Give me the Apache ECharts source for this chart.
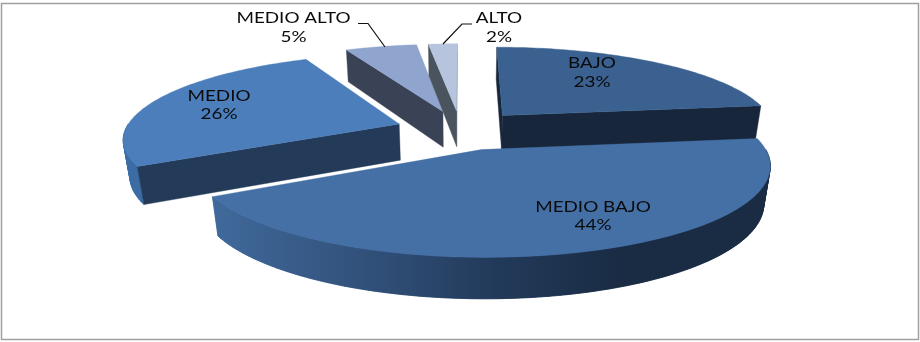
<!DOCTYPE html>
<html>
<head>
<meta charset="utf-8">
<style>html,body{margin:0;padding:0;background:#fff}#chart{width:920px;height:342px}</style>
<script src="https://cdn.jsdelivr.net/npm/echarts@6/dist/echarts.min.js"></script>
</head>
<body>
<div id="chart"></div>
<script>
// Income level shares, clockwise from twelve o'clock
const categories = ['BAJO', 'MEDIO BAJO', 'MEDIO', 'MEDIO ALTO', 'ALTO'];
const shares = [23, 44, 26, 5, 2];

// Slice colours
const topColors = ['#3A6190', '#4470A6', '#4B7EBB', '#8FA5CE', '#B6C4DD'];
const cutColors = ['#17263B', '#1A2C44', '#243A59', '#3A4256', '#4A545F'];

// Back-to-front paint order of the slices
const paintOrder = [3, 4, 0, 2, 1];

// Label anchors (centre of the two-line text) and their leader lines
const labelCentres = [[592, 73], [593, 216.5], [219, 105.5], [293.5, 28], [499, 28]];
const leaders = [null, null, null,
  [[358, 23.5], [368, 23.5], [385, 47]],
  [[472, 24], [462, 24], [443, 44]]];

// Pie projection: a unit disc seen from above with mild perspective
const view = {
  cx: 460.5, cy: 130,
  scaleX: 274, scaleY: 83.5,
  perspective: 0.16,
  explode: 0.238,
  thickness: 36.5,
  thicknessSlope: 4,
  bottomShrink: 0.02
};

function project(X, Y, lower) {
  const w = 1 + view.perspective * Y + (lower ? view.bottomShrink : 0);
  const drop = lower ? view.thickness - view.thicknessSlope * Y : 0;
  return [
    view.cx + view.scaleX * X / w,
    view.cy - view.scaleY * Y / (1 + view.perspective * Y) + drop
  ];
}

const total = shares.reduce((a, b) => a + b, 0);
const starts = [];
shares.reduce((acc, v, i) => { starts[i] = acc; return acc + v; }, 0);

function signedArea(pts) {
  let s = 0;
  pts.forEach((p, i) => {
    const q = pts[(i + 1) % pts.length];
    s += p[0] * q[1] - q[0] * p[1];
  });
  return s;
}

function renderSlice(params, api) {
  const idx = api.value(0);
  const value = api.value(1);
  const a0 = starts[idx] / total * 2 * Math.PI;
  const a1 = a0 + value / total * 2 * Math.PI;
  const mid = (a0 + a1) / 2;
  const ox = view.explode * Math.sin(mid);
  const oy = view.explode * Math.cos(mid);
  const rimAt = (a, lower) => project(ox + Math.sin(a), oy + Math.cos(a), lower);
  const apex = lower => project(ox, oy, lower);

  const arc = (from, to, lower) => {
    const n = Math.max(2, Math.ceil((to - from) / 0.02));
    const out = [];
    for (let i = 0; i <= n; i++) out.push(rimAt(from + (to - from) * i / n, lower));
    return out;
  };

  const children = [];
  const poly = (points, fill, width) => children.push({
    type: 'polygon',
    shape: { points },
    style: { fill, stroke: fill, lineWidth: width === undefined ? 0.4 : width }
  });

  // Outer wall, only along the part of the rim facing the viewer. A single
  // band forms the body; the strips over it fill the silhouette between rims.
  const wallFrom = Math.max(a0, Math.PI * 0.5);
  const wallTo = Math.min(a1, Math.PI * 1.5);
  if (wallTo > wallFrom) {
    const wallFill = new echarts.graphic.LinearGradient(100, 0, 820, 0, [
      { offset: 0, color: '#3A6DA8' },
      { offset: 0.16, color: '#40699B' },
      { offset: 0.4, color: '#2F4D75' },
      { offset: 0.55, color: '#223A5A' },
      { offset: 0.72, color: '#1A2C44' },
      { offset: 1, color: '#1A2C44' }
    ], true);
    const upper = arc(wallFrom, wallTo, false);
    const lower = arc(wallFrom, wallTo, true);
    poly(upper.concat(lower.slice().reverse()), wallFill);
    for (let i = 0; i + 1 < upper.length; i++) {
      poly([upper[i], upper[i + 1], lower[i + 1], lower[i]], wallFill, 0.6);
    }
  }

  // Radial cut faces, kept only when they turn toward the viewer
  const startFace = [apex(false), rimAt(a0, false), rimAt(a0, true), apex(true)];
  const endFace = [apex(false), rimAt(a1, false), rimAt(a1, true), apex(true)];
  if (signedArea(startFace) < 0) poly(startFace, cutColors[idx]);
  if (signedArea(endFace) > 0) poly(endFace, cutColors[idx]);

  // Top face
  poly([apex(false)].concat(arc(a0, a1, false)), topColors[idx]);

  return { type: 'group', children };
}

function renderLabel(params, api) {
  const idx = api.value(0);
  const c = labelCentres[idx];
  const children = [{
    type: 'text',
    x: c[0], y: c[1],
    scaleX: 1.3,
    style: {
      text: categories[idx] + '\n' + api.value(1) + '%',
      x: 0, y: 0,
      align: 'center', verticalAlign: 'middle',
      font: '14.5px Lato',
      lineHeight: 18.5,
      fill: '#0B0B0B'
    }
  }];
  if (leaders[idx]) {
    children.push({
      type: 'polyline',
      shape: { points: leaders[idx] },
      style: { fill: 'none', stroke: '#111111', lineWidth: 1.2 }
    });
  }
  return { type: 'group', children };
}

const chart = echarts.init(document.getElementById('chart'), null, { renderer: 'canvas' });
chart.setOption({
  animation: false,
  backgroundColor: '#ffffff',
  graphic: [{
    type: 'rect',
    shape: { x: 1.5, y: 3.5, width: 917, height: 336 },
    style: { fill: 'none', stroke: '#A0A0A0', lineWidth: 1.5 },
    silent: true
  }],
  series: [
    {
      type: 'custom',
      coordinateSystem: 'none',
      renderItem: renderSlice,
      data: paintOrder.map(i => [i, shares[i]])
    },
    {
      type: 'custom',
      coordinateSystem: 'none',
      renderItem: renderLabel,
      data: shares.map((v, i) => [i, v])
    }
  ]
});
</script>
</body>
</html>
